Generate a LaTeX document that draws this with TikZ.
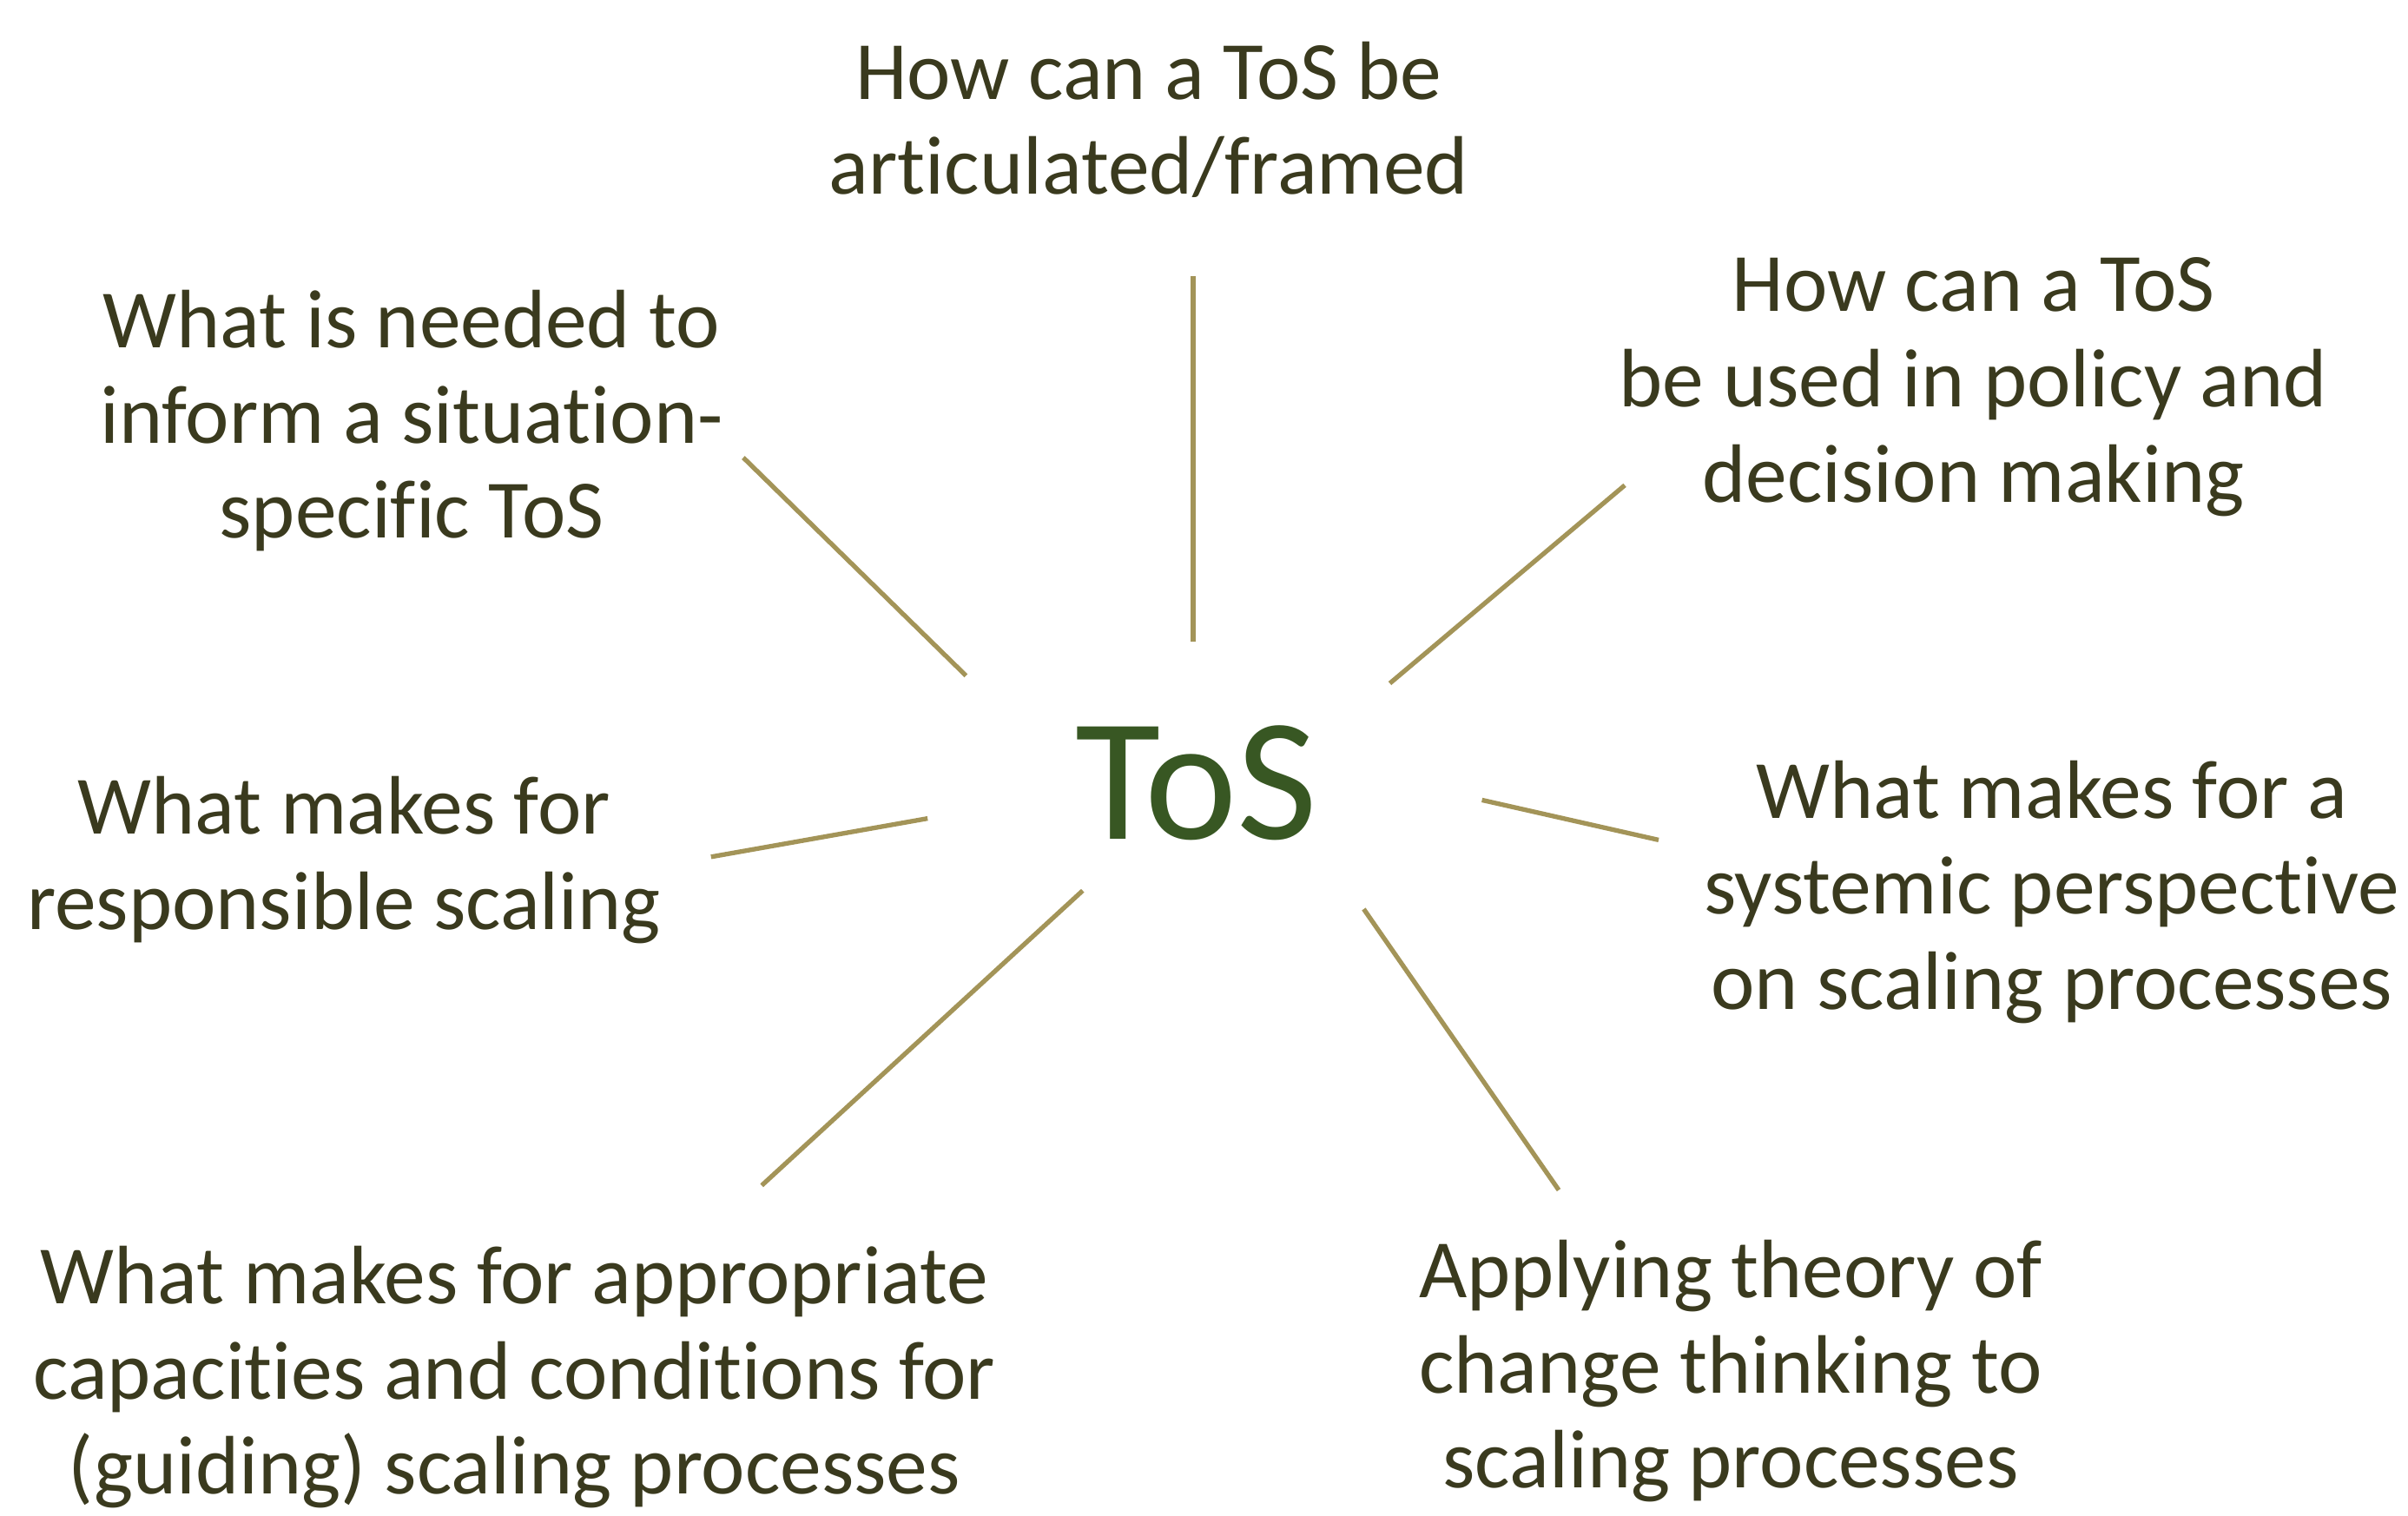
\documentclass[tikz,border=0pt]{standalone}
\usepackage{fontspec}
\setmainfont{Carlito}[Ligatures=NoCommon]
\usepackage{tikz}
\usetikzlibrary{positioning}
\definecolor{qtext}{HTML}{3A3A1E}
\definecolor{tosgreen}{HTML}{385723}
\definecolor{spokecol}{HTML}{A39458}

\begin{document}
\begin{tikzpicture}[x=0.5pt, y=-0.5pt,
  question/.style={align=center, text=qtext, font=\fontsize{27}{31}\selectfont, inner sep=0pt},
  spoke/.style={draw=spokecol, line width=1.5pt}]
\useasboundingbox (0,0) rectangle (1568,987);
\node[text=tosgreen, font=\fontsize{57}{62}\selectfont, inner sep=0pt](tos) at (779,510){ToS};
\node[question](qtop) at (748,78){How can a ToS be\\articulated/framed};
\node[question](qinform) at (268,274){What is needed to\\inform a situation-\\specific ToS};
\node[question](qpolicy) at (1285,252){How can a ToS\\be used in policy and\\decision making};
\node[question](qsystem) at (1336,581){What makes for a\\systemic perspective\\on scaling processes};
\node[question](qresp) at (224,560){What makes for\\responsible scaling};
\node[question](qcap) at (335,897){What makes for appropriate\\capacities and conditions for\\(guiding) scaling processes};
\node[question](qapply) at (1127,893){Applying theory of\\change thinking to\\scaling processes};
% spokes from ToS out to the questions
\foreach \ix/\iy/\ox/\oy/\n in {777/418/777/180/top, 629/440/484/298/inform, 905/445/1058/316/policy,
  965/521/1080/547/system, 604/533/463/558/resp, 705/580/496/772/cap, 888/592/1015/775/apply}{
  \coordinate (in\n) at (\ix,\iy);
  \coordinate (out\n) at (\ox,\oy);
  \draw[spoke] (in\n) -- (out\n);
}
\end{tikzpicture}
\end{document}
